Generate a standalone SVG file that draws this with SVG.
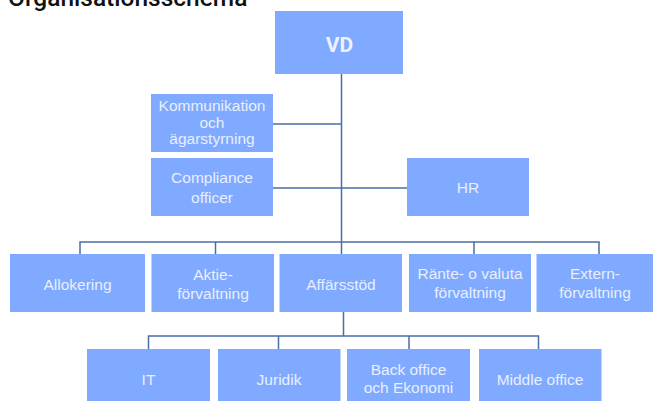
<svg xmlns="http://www.w3.org/2000/svg" width="653" height="401" viewBox="0 0 653 401">
<style>
.box{fill:#80aaff}
.t{font-family:"Liberation Sans",Arial,sans-serif;font-size:15.5px;fill:#e8efff;text-anchor:middle}
.vd{font-family:Roboto,"Liberation Sans",sans-serif;font-size:21px;font-weight:bold;fill:#eef2ff;text-anchor:middle}
.title{font-family:Roboto,"Liberation Sans",sans-serif;font-size:24.5px;font-weight:500;fill:#111}
.c{stroke:#4a6fa5;stroke-width:1.5;fill:none}
</style>
<rect width="653" height="401" fill="#fff"/>
<text class="title" x="8" y="5.5">Organisationsschema</text>
<g id="connectors">
<path class="c" d="M341.5 74V254M273 124H341.5M273 188H407M80 254V242H599V254M215.5 242V254M474 242V254"/>
<path class="c" d="M343.5 312V336M148.5 349V336H538.5V349M278.5 336V349M409 336V349"/>
</g>
<g id="vd"><rect class="box" x="275" y="11" width="128" height="63"/><text class="vd" x="339.5" y="52">VD</text></g>
<g id="kommunikation"><rect class="box" x="151" y="94" width="122" height="58"/><text class="t" x="212" y="111">Kommunikation</text><text class="t" x="212" y="127.5">och</text><text class="t" x="212" y="144">ägarstyrning</text></g>
<g id="compliance"><rect class="box" x="151" y="158" width="122" height="58"/><text class="t" x="212" y="183">Compliance</text><text class="t" x="212" y="203">officer</text></g>
<g id="hr"><rect class="box" x="407" y="158" width="122" height="58"/><text class="t" x="468" y="193">HR</text></g>
<g id="allokering"><rect class="box" x="10" y="254" width="135" height="58"/><text class="t" x="77.5" y="290">Allokering</text></g>
<g id="aktie"><rect class="box" x="151.5" y="254" width="122.5" height="58"/><text class="t" x="213" y="280">Aktie-</text><text class="t" x="213" y="299">förvaltning</text></g>
<g id="affarsstod"><rect class="box" x="279.5" y="254" width="122.5" height="58"/><text class="t" x="341" y="290">Affärsstöd</text></g>
<g id="ranta"><rect class="box" x="409" y="254" width="122" height="58"/><text class="t" x="470" y="279">Ränte- o valuta</text><text class="t" x="470" y="298">förvaltning</text></g>
<g id="extern"><rect class="box" x="536.5" y="254" width="118" height="58"/><text class="t" x="595" y="279">Extern-</text><text class="t" x="595" y="298">förvaltning</text></g>
<g id="it"><rect class="box" x="87" y="349" width="123" height="58"/><text class="t" x="148.5" y="385">IT</text></g>
<g id="juridik"><rect class="box" x="218" y="349" width="122.5" height="58"/><text class="t" x="279" y="385">Juridik</text></g>
<g id="backoffice"><rect class="box" x="347" y="349" width="123" height="58"/><text class="t" x="408.5" y="375">Back office</text><text class="t" x="408.5" y="393">och Ekonomi</text></g>
<g id="middleoffice"><rect class="box" x="479" y="349" width="122.5" height="58"/><text class="t" x="540" y="385">Middle office</text></g>
</svg>
